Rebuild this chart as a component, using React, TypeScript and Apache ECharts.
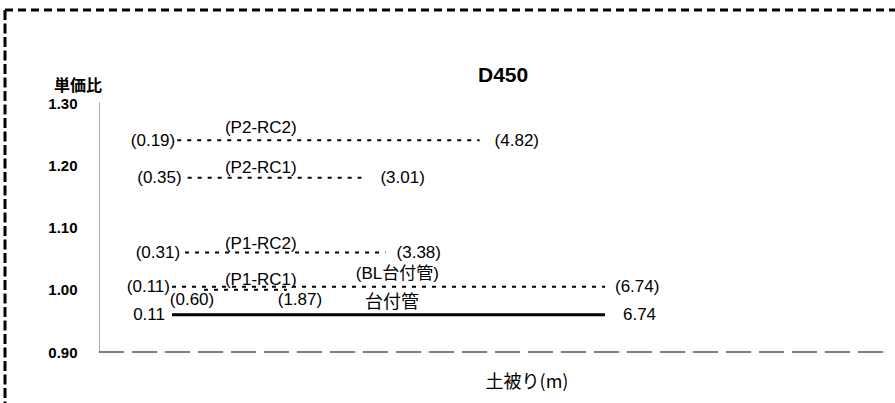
import React, { useEffect, useRef } from 'react';
import * as echarts from 'echarts';

// ---- data ----
const lineNames = ['P2-RC2', 'P2-RC1', 'P1-RC2', 'P1-RC1', 'BL台付管', '台付管'];
const startDepth = [0.19, 0.35, 0.31, 0.6, 0.11, 0.11];
const endDepth = [4.82, 3.01, 3.38, 1.87, 6.74, 6.74];
const priceRatio = [1.24, 1.18, 1.06, 1.0, 1.005, 0.96];
const chartTitle = 'D450';
const yAxisName = '単価比';
const xAxisName = '土被り(m)';

// ---- styling / label placement (not data) ----
const FONT = "'Liberation Sans', 'Noto Sans CJK JP', sans-serif";
const CJK = "'Noto Sans CJK JP', 'Liberation Sans', sans-serif";

type Place = { pos: string; dist: number; offset?: [number, number] };
type Look = {
  solid: boolean;
  paren: boolean;
  start: Place;
  end: Place;
  nameAt: number;
  nameDist: number;
  nameSize: number;
  nameParen: boolean;
};

const looks: Look[] = [
  { solid: false, paren: true, start: { pos: 'left', dist: 2 }, end: { pos: 'right', dist: 15 }, nameAt: 1.47, nameDist: 4, nameSize: 17, nameParen: true },
  { solid: false, paren: true, start: { pos: 'left', dist: 6 }, end: { pos: 'right', dist: 19 }, nameAt: 1.47, nameDist: 1.5, nameSize: 17, nameParen: true },
  { solid: false, paren: true, start: { pos: 'left', dist: 5 }, end: { pos: 'right', dist: 11 }, nameAt: 1.47, nameDist: 0, nameSize: 17, nameParen: true },
  { solid: false, paren: true, start: { pos: 'bottom', dist: 1, offset: [-12, 0] }, end: { pos: 'bottom', dist: 1, offset: [13, 0] }, nameAt: 1.47, nameDist: 2, nameSize: 17, nameParen: true },
  { solid: false, paren: true, start: { pos: 'left', dist: 2 }, end: { pos: 'right', dist: 10 }, nameAt: 3.56, nameDist: 4.5, nameSize: 17, nameParen: true },
  { solid: true, paren: false, start: { pos: 'left', dist: 7 }, end: { pos: 'right', dist: 18 }, nameAt: 3.48, nameDist: 6, nameSize: 18, nameParen: false },
];

function fmt(v: number, paren: boolean) {
  const s = v.toFixed(2);
  return paren ? `(${s})` : s;
}

export default function App() {
  const ref = useRef<HTMLDivElement>(null);
  useEffect(() => {
    if (!ref.current) return;
    const chart = echarts.init(ref.current, undefined, { renderer: 'svg' });

    const series = lineNames.map((name, i) => {
      const lk = looks[i];
      const labelBase = { show: true, color: '#000', fontFamily: FONT, fontSize: 17 };
      return {
        type: 'line',
        name,
        symbol: 'circle',
        symbolSize: 0,
        showSymbol: true,
        silent: true,
        lineStyle: {
          color: '#000',
          width: lk.solid ? 3 : 2,
          type: lk.solid ? 'solid' : [4, 6],
        },
        itemStyle: { color: '#000' },
        data: [
          {
            value: [startDepth[i], priceRatio[i]],
            label: {
              ...labelBase,
              position: lk.start.pos,
              distance: lk.start.dist,
              offset: lk.start.offset || [0, 0],
              formatter: () => fmt(startDepth[i], lk.paren),
            },
          },
          {
            value: [endDepth[i], priceRatio[i]],
            label: {
              ...labelBase,
              position: lk.end.pos,
              distance: lk.end.dist,
              offset: lk.end.offset || [0, 0],
              formatter: () => fmt(endDepth[i], lk.paren),
            },
          },
        ],
        markPoint: {
          symbol: 'circle',
          symbolSize: 0,
          silent: true,
          itemStyle: { color: 'transparent' },
          label: {
            show: true,
            position: 'top',
            distance: lk.nameDist,
            color: '#000',
            fontFamily: lk.nameParen ? FONT : CJK,
            fontSize: lk.nameSize,
            formatter: () => (lk.nameParen ? `(${name})` : name),
          },
          data: [{ coord: [lk.nameAt, priceRatio[i]], value: 0 }],
        },
      };
    });

    chart.setOption({
      animation: false,
      title: {
        text: chartTitle,
        left: 478,
        top: 64,
        padding: 0,
        textStyle: { color: '#000', fontFamily: FONT, fontSize: 21, fontWeight: 'bold' },
      },
      grid: { left: 99.5, right: 11.8, top: 103, bottom: 51 },
      xAxis: {
        type: 'value',
        min: -1,
        max: 11,
        axisLabel: { show: false },
        axisTick: { show: false },
        splitLine: { show: false },
        axisLine: { show: true, onZero: false, lineStyle: { color: '#555', width: 1.5, type: [24, 9] } },
      },
      yAxis: {
        type: 'value',
        min: 0.9,
        max: 1.3,
        interval: 0.1,
        axisTick: { show: false },
        splitLine: { show: false },
        axisLine: { show: true, onZero: false, lineStyle: { color: '#999', width: 1, type: 'dotted' } },
        axisLabel: {
          margin: 22,
          color: '#000',
          fontFamily: FONT,
          fontSize: 15,
          fontWeight: 'bold',
          formatter: (v: number) => v.toFixed(2),
        },
      },
      graphic: [
        { type: 'line', silent: true, shape: { x1: 5, y1: 10, x2: 900, y2: 10 }, style: { stroke: '#000', lineWidth: 3, lineDash: [8, 5] } },
        { type: 'line', silent: true, shape: { x1: 5, y1: 10, x2: 5, y2: 410 }, style: { stroke: '#000', lineWidth: 3, lineDash: [10, 3.5] } },
        {
          type: 'text',
          x: 78,
          y: 84,
          style: { text: yAxisName, fill: '#000', fontFamily: CJK, fontSize: 16, fontWeight: 'bold', align: 'center', verticalAlign: 'middle' },
        },
        {
          type: 'text',
          x: 527,
          y: 380,
          style: { text: xAxisName, fill: '#000', fontFamily: CJK, fontSize: 18, align: 'center', verticalAlign: 'middle' },
        },
      ],
      series,
    });
    return () => chart.dispose();
  }, []);

  return (
    <div
      ref={ref}
      style={{ position: 'fixed', left: 0, top: 0, width: 895, height: 403, background: '#fff' }}
    />
  );
}
